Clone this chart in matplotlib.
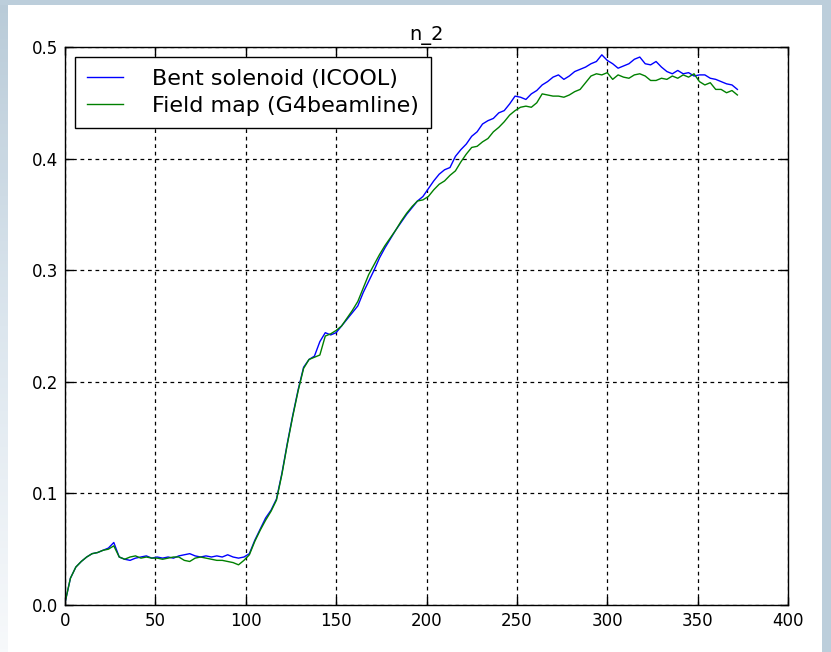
import numpy as np
import matplotlib.pyplot as plt
from matplotlib.patches import Rectangle

# Abscissa grid of the sampled curves (step 3)
s = np.arange(0, 373, 3)

# Bent solenoid (ICOOL)
icool = [
    0.002, 0.024, 0.034, 0.039, 0.043, 0.046, 0.047, 0.049, 0.051, 0.056,
    0.043, 0.041, 0.040, 0.042, 0.043, 0.044, 0.042, 0.043, 0.042, 0.043,
    0.042, 0.044, 0.045, 0.046, 0.044, 0.043, 0.044, 0.043, 0.044, 0.043,
    0.045, 0.043, 0.042, 0.043,
    0.046, 0.058, 0.068, 0.078, 0.085, 0.095, 0.118, 0.145, 0.170, 0.193,
    0.213, 0.220, 0.223, 0.236, 0.244, 0.242, 0.244, 0.250, 0.256, 0.262,
    0.268, 0.280, 0.290, 0.300, 0.311, 0.320, 0.328, 0.336, 0.343, 0.350,
    0.356, 0.362, 0.366, 0.373, 0.380, 0.386, 0.390, 0.392, 0.402, 0.408,
    0.413, 0.420,
    0.424, 0.431, 0.434, 0.436, 0.441, 0.443, 0.449, 0.456, 0.455, 0.453,
    0.458, 0.461, 0.466, 0.469, 0.473, 0.475, 0.471, 0.474, 0.478, 0.480,
    0.482, 0.485, 0.487, 0.493, 0.488,
    0.485, 0.481, 0.483, 0.485, 0.489, 0.491, 0.485, 0.484, 0.487, 0.482,
    0.478, 0.476, 0.479, 0.476, 0.477, 0.474, 0.475, 0.475, 0.472, 0.471,
    0.469, 0.467, 0.466, 0.462,
]

# Field map (G4beamline)
g4bl = [
    0.002, 0.024, 0.034, 0.039, 0.043, 0.046, 0.047, 0.049, 0.050, 0.053,
    0.043, 0.041, 0.043, 0.044, 0.042, 0.043, 0.042, 0.042, 0.041, 0.042,
    0.043, 0.043, 0.040, 0.039, 0.042, 0.043, 0.042, 0.041, 0.040, 0.040,
    0.039, 0.038, 0.036, 0.040,
    0.045, 0.057, 0.067, 0.076, 0.084, 0.094, 0.117, 0.144, 0.169, 0.192,
    0.212, 0.220, 0.222, 0.224, 0.241, 0.243, 0.246, 0.250, 0.257, 0.264,
    0.272, 0.284, 0.296, 0.305, 0.314, 0.322, 0.329, 0.336, 0.344, 0.351,
    0.357, 0.362, 0.363, 0.366, 0.372, 0.377, 0.380, 0.385, 0.389, 0.397,
    0.404, 0.410,
    0.411, 0.415, 0.418, 0.424, 0.428, 0.433, 0.439, 0.443, 0.446, 0.447,
    0.446, 0.450, 0.458, 0.457, 0.456, 0.456, 0.455, 0.457, 0.460, 0.462,
    0.468, 0.474, 0.476, 0.475, 0.477,
    0.471, 0.475, 0.473, 0.472, 0.475, 0.476, 0.474, 0.470, 0.470, 0.472,
    0.471, 0.474, 0.472, 0.475, 0.473, 0.476, 0.469, 0.466, 0.468, 0.462,
    0.462, 0.459, 0.461, 0.457,
]

fig = plt.figure(figsize=(8.31, 6.52), dpi=100, facecolor="white")

# slide frame around the chart
bg = fig.add_axes([0, 0, 1, 1], zorder=-10)
bg.set_axis_off()
grad = np.linspace(0, 1, 200).reshape(-1, 1)
bg.imshow(grad, cmap=plt.matplotlib.colors.LinearSegmentedColormap.from_list(
    "frame", ["#b9cbd8", "#dce6ee", "#f7f9fb"]), aspect="auto",
    extent=[0, 8 / 831, 0, 1], origin="upper")
bg.add_patch(Rectangle((0, 1 - 5 / 652), 1, 5 / 652, color="#bccedb", lw=0))
bg.add_patch(Rectangle((1 - 9 / 831, 0), 9 / 831, 1, color="#bccedb", lw=0))
bg.set_xlim(0, 1)
bg.set_ylim(0, 1)

ax = fig.add_axes([65 / 831, 47 / 652, 723 / 831, 558 / 652])
ax.plot(s, icool, color="blue", lw=1.0, label="Bent solenoid (ICOOL)")
ax.plot(s, g4bl, color="green", lw=1.0, label="Field map (G4beamline)")

ax.set_xlim(0, 400)
ax.set_ylim(0, 0.5)
ax.set_xticks(np.arange(0, 401, 50))
ax.set_yticks([0.0, 0.1, 0.2, 0.3, 0.4, 0.5])
ax.tick_params(direction="in", length=6, width=1, top=True, right=True,
               labelsize=12, pad=5)
ax.grid(True, color="black", linestyle=(0, (3, 3)), linewidth=0.9)
for sp in ax.spines.values():
    sp.set_linewidth(1.0)
ax.set_title("n_2", fontsize=14, pad=5)

leg = ax.legend(loc="upper left", fontsize=16, fancybox=False,
                edgecolor="black", framealpha=1, handlelength=1.6,
                labelspacing=0.3, borderpad=0.55, borderaxespad=0.45,
                handletextpad=1.3)
leg.get_frame().set_linewidth(1.0)

fig.savefig("out.png", dpi=100)
